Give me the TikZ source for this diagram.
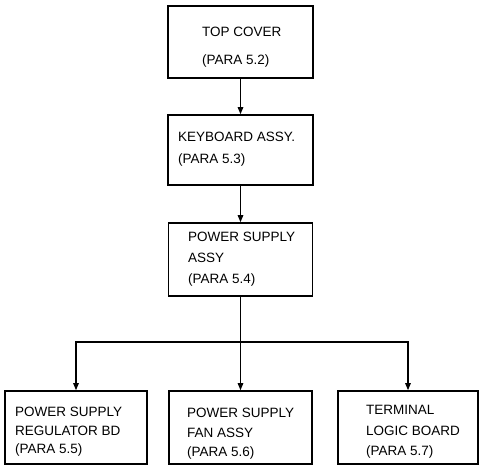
\documentclass[tikz,border=0pt]{standalone}
\usepackage{fontspec}
\setmainfont{Liberation Sans}
\usetikzlibrary{arrows.meta}
\tikzset{>={Triangle[length=7pt,width=5.5pt]}}

\begin{document}
\begin{tikzpicture}[x=1pt,y=-1pt]
            \tikzstyle{box}=[draw, line width=1.6pt, inner sep=0pt, minimum height=72pt]
            \tikzstyle{lbl}=[anchor=north west, inner sep=0pt, align=left, font=\fontsize{13.5}{19}\selectfont]
            \tikzstyle{arr}=[->, line width=1.2pt]
            \useasboundingbox (0,0) rectangle (480,465);
            % boxes
            \node [box, minimum width=145pt] (top) at (240.5,42) {};
            \node [box, minimum width=145pt, minimum height=70pt] (kb) at (240.5,150) {};
            \node [box, minimum width=144pt, minimum height=73pt] (ps) at (240.5,259.5) {};
            \node [box, minimum width=142pt, minimum height=73pt] (reg) at (76,427.5) {};
            \node [box, minimum width=143pt, minimum height=73pt] (fan) at (240.5,427.5) {};
            \node [box, minimum width=140pt, minimum height=73pt] (logic) at (408,427.5) {};
            % texts
            \node [lbl] (toptxt) at (202,27.3) {TOP COVER\\[9pt](PARA 5.2)};
            \node [lbl] (kbtxt) at (178,132.3) {KEYBOARD ASSY.\\[3pt](PARA 5.3)};
            \node [lbl] (pstxt) at (188,232.3) {POWER SUPPLY\\[2pt]ASSY\\[2pt](PARA 5.4)};
            \node [lbl] (regtxt) at (15,407.3) {POWER SUPPLY\\[-0.5pt]REGULATOR BD\\[-0.5pt](PARA 5.5)};
            \node [lbl] (fantxt) at (187,408.3) {POWER SUPPLY\\[0.5pt]FAN ASSY\\[0.5pt](PARA 5.6)};
            \node [lbl] (logictxt) at (366,405) {TERMINAL\\[2pt]LOGIC BOARD\\[1pt](PARA 5.7)};
            % connectors
            \coordinate (split) at (240.5,342);
            \draw [arr] (top) -- (kb);
            \draw [arr] (kb) -- (ps);
            \draw [line width=1.2pt] (ps) -- (split);
            \draw [arr] (split) -- (fan);
            \draw [arr] (split) -| (reg);
            \draw [arr] (split) -| (logic);
\end{tikzpicture}
\end{document}
